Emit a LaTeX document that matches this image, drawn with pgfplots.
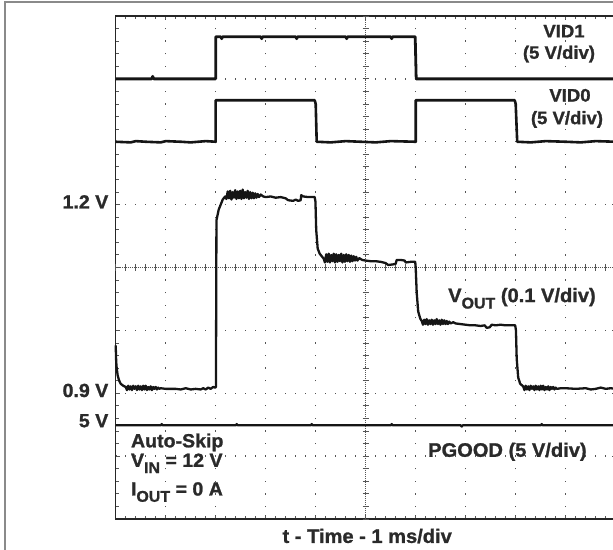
\documentclass[border=0pt]{standalone}
\usepackage{fontspec}
\setmainfont{Liberation Sans}
\newfontfamily\lbf{Liberation Sans Bold}[FakeStretch=1.03, FakeBold=1.2]
\usepackage{pgfplots}
\pgfplotsset{compat=1.18}
\definecolor{tr}{HTML}{151515}
\definecolor{txt}{HTML}{2A2A2A}
\definecolor{frm}{HTML}{8A8A8A}
\definecolor{grd}{HTML}{555555}
\newcommand\sub[1]{\raisebox{-0.33em}{\fontsize{15.5bp}{15.5bp}\selectfont #1}}
\tikzset{
  lbl/.style={inner sep=0pt, outer sep=0pt, text=txt, font=\lbf\fontsize{19bp}{22bp}\selectfont},
  lbls/.style={inner sep=0pt, outer sep=0pt, text=txt, font=\lbf\fontsize{18bp}{21bp}\selectfont},
  lblb/.style={inner sep=0pt, outer sep=0pt, text=txt, font=\lbf\fontsize{19.5bp}{23bp}\selectfont},
}
\begin{document}
\begin{tikzpicture}
\begin{axis}[
  scale only axis, width=500bp, height=503bp,
  xmin=0, xmax=10, ymin=0, ymax=8,
  clip=false,
  xtick={0,...,10}, ytick={0,...,8},
  xticklabels={}, yticklabels={},
  minor x tick num=4, minor y tick num=4,
  tick align=inside, major tick length=4bp, minor tick length=3bp,
  tick style={grd, line width=0.9bp},
  axis line style={black!85, line width=1.3bp},
  grid=major,
  major x grid style={grd, line width=1.3bp, dash pattern=on 1.3bp off 11.275bp, dash phase=0.65bp},
  major y grid style={grd, line width=1.3bp, dash pattern=on 1.3bp off 8.7bp, dash phase=0.65bp},
]
% frame and bounding coordinates
\draw[frm, line width=1.6bp] (axis cs:-2.214,-0.8) rectangle (axis cs:10.3,8.227);
\coordinate (bl) at (axis cs:-2.314,-0.493);
\coordinate (tr) at (axis cs:9.946,8.2545);
% centre lines
\draw[grd, line width=1bp, dash pattern=on 1bp off 1bp] (axis cs:5,0) -- (axis cs:5,8);
\draw[grd, line width=1bp, dash pattern=on 1bp off 1bp] (axis cs:0,4) -- (axis cs:10,4);
\pgfplotsinvokeforeach{0,0.2,...,10}{\draw[grd, line width=0.9bp] (axis cs:#1,3.95) -- (axis cs:#1,4.05);}
\pgfplotsinvokeforeach{0,0.2,...,8}{\draw[grd, line width=0.9bp] (axis cs:4.94,#1) -- (axis cs:5.06,#1);}

% VID1
\addplot[tr, line width=2.8bp, line join=round] coordinates {
(0,7.0) (0.72,7.0) (0.74,7.04) (0.76,7.0) (2.0,7.0) (2.0,7.67) (2.1,7.67) (2.12,7.64) (2.14,7.67)
(2.9,7.67) (2.92,7.64) (2.94,7.67) (3.6,7.67) (3.62,7.64) (3.64,7.67)
(4.6,7.67) (4.62,7.64) (4.64,7.67) (5.5,7.67) (5.52,7.64) (5.54,7.67)
(5.99,7.67) (6.01,7.0) (10,7.0)};
% VID0
\addplot[tr, line width=2.6bp, line join=round] coordinates {
(0,6.0) (0.3,5.99) (0.4,6.01) (0.6,6.0) (0.9,5.99) (1.0,6.01) (1.3,6.0) (1.5,5.99) (1.8,6.01)
(2.0,6.0) (2.0,6.66) (3.98,6.66) (4.0,6.6) (4.02,6.0) (4.3,5.99) (4.6,6.01) (4.9,6.0) (5.2,5.99)
(5.5,6.01) (6.0,6.0) (6.0,6.66) (7.98,6.66) (8.0,6.6) (8.03,6.0)
(8.3,5.99) (8.6,6.01) (9.0,6.0) (9.3,5.99) (9.6,6.01) (10,6.0)};
% VOUT
\addplot[tr, line width=2.3bp, line join=round] coordinates {
(0.0,2.76) (0.01,2.5) (0.02,2.4) (0.04,2.28) (0.07,2.2) (0.1,2.15) (0.15,2.12) (0.2,2.1)
(0.225,2.05) (0.25,2.12) (0.275,2.06) (0.3,2.11) (0.325,2.05) (0.35,2.12) (0.375,2.07) (0.4,2.11)
(0.425,2.05) (0.45,2.12) (0.475,2.06) (0.5,2.11) (0.525,2.05) (0.55,2.12) (0.575,2.06) (0.6,2.12)
(0.625,2.05) (0.65,2.1) (0.675,2.06) (0.7,2.11) (0.725,2.05) (0.75,2.1) (0.775,2.07) (0.8,2.1)
(0.825,2.06) (0.85,2.09) (0.875,2.07) (0.9,2.08)
(1.0,2.07) (1.2,2.07) (1.3,2.06) (1.4,2.08) (1.5,2.06) (1.6,2.07) (1.7,2.06) (1.75,2.08) (1.8,2.06)
(1.85,2.09) (1.9,2.07) (1.95,2.1) (1.99,2.09)
(2.005,2.1) (2.015,4.75) (2.06,4.92) (2.1,5.0) (2.14,5.08) (2.19,5.13)
(2.215,5.09) (2.24,5.21) (2.265,5.1) (2.29,5.22) (2.315,5.08) (2.34,5.2) (2.365,5.11) (2.39,5.23)
(2.415,5.09) (2.44,5.21) (2.465,5.1) (2.49,5.22) (2.515,5.09) (2.54,5.24) (2.565,5.1) (2.59,5.2)
(2.615,5.11) (2.64,5.22) (2.665,5.09) (2.69,5.2) (2.715,5.1) (2.74,5.19) (2.765,5.1) (2.79,5.18)
(2.815,5.11) (2.84,5.17) (2.865,5.12) (2.9,5.16) (2.95,5.13)
(3.0,5.12) (3.1,5.13) (3.2,5.11) (3.3,5.12) (3.4,5.1) (3.45,5.07) (3.55,5.06) (3.6,5.08) (3.65,5.06)
(3.7,5.07) (3.71,5.15) (3.75,5.13) (3.85,5.12) (3.98,5.12)
(3.995,5.05) (4.01,4.6) (4.04,4.3) (4.08,4.22) (4.13,4.17) (4.16,4.14)
(4.185,4.08) (4.21,4.21) (4.235,4.09) (4.26,4.22) (4.285,4.08) (4.31,4.2) (4.335,4.1) (4.36,4.22)
(4.385,4.08) (4.41,4.21) (4.435,4.09) (4.46,4.2) (4.485,4.1) (4.51,4.22) (4.535,4.08) (4.56,4.2)
(4.585,4.09) (4.61,4.21) (4.635,4.1) (4.66,4.2) (4.685,4.09) (4.71,4.19) (4.735,4.1) (4.76,4.18)
(4.785,4.11) (4.81,4.17) (4.835,4.11) (4.87,4.15) (4.93,4.12)
(5.0,4.11) (5.1,4.1) (5.2,4.1) (5.3,4.09) (5.4,4.07) (5.45,4.04) (5.55,4.05) (5.6,4.06) (5.62,4.12)
(5.7,4.12) (5.78,4.11) (5.8,4.08) (5.9,4.09) (5.99,4.09)
(6.0,4.0) (6.02,3.6) (6.05,3.3) (6.09,3.19) (6.12,3.15)
(6.145,3.09) (6.17,3.17) (6.195,3.1) (6.22,3.18) (6.245,3.09) (6.27,3.16) (6.295,3.1) (6.32,3.17)
(6.345,3.09) (6.37,3.16) (6.395,3.1) (6.42,3.18) (6.445,3.1) (6.47,3.16) (6.495,3.09) (6.52,3.17)
(6.545,3.1) (6.57,3.16) (6.595,3.1) (6.62,3.15) (6.645,3.1) (6.67,3.14) (6.7,3.11) (6.75,3.13)
(6.8,3.11) (6.9,3.1)
(7.0,3.09) (7.1,3.08) (7.2,3.08) (7.3,3.07) (7.38,3.08) (7.42,3.04) (7.48,3.05) (7.52,3.09) (7.6,3.08)
(7.7,3.09) (7.8,3.08) (7.9,3.08) (7.99,3.08)
(8.005,3.0) (8.02,2.55) (8.05,2.25) (8.09,2.15) (8.15,2.11)
(8.175,2.05) (8.2,2.12) (8.225,2.06) (8.25,2.11) (8.275,2.05) (8.3,2.12) (8.325,2.07) (8.35,2.11)
(8.375,2.05) (8.4,2.12) (8.425,2.06) (8.45,2.11) (8.475,2.05) (8.5,2.12) (8.525,2.06) (8.55,2.12)
(8.575,2.05) (8.6,2.1) (8.625,2.06) (8.65,2.11) (8.675,2.05) (8.7,2.1) (8.725,2.07) (8.75,2.1)
(8.775,2.06) (8.8,2.09) (8.825,2.07) (8.9,2.08)
(9.0,2.08) (9.2,2.07) (9.4,2.08) (9.5,2.06) (9.6,2.07) (9.7,2.09) (9.8,2.07) (9.9,2.08) (10,2.07)};
% PGOOD
\addplot[tr, line width=2.2bp, line join=round] coordinates {
(0,1.49) (0.9,1.49) (0.92,1.51) (0.94,1.49) (2.4,1.49) (2.42,1.51) (2.44,1.49) (3.9,1.49) (3.92,1.51)
(3.94,1.49) (5.5,1.49) (5.52,1.51) (5.54,1.49) (6.9,1.49) (6.92,1.47) (6.94,1.49) (8.5,1.49) (8.52,1.51)
(8.54,1.49) (10,1.49)};

% labels
\node[lbl, anchor=base east] at (axis cs:-0.148,4.94) {1.2 V};
\node[lbl, anchor=base east] at (axis cs:-0.148,1.94) {0.9 V};
\node[lbl, anchor=base east] at (axis cs:-0.148,1.46) {5 V};
\node[lbl, anchor=base west] at (axis cs:0.306,1.14) {Auto-Skip};
\node[lbl, anchor=base west] at (axis cs:0.306,0.83) {V\sub{IN} = 12 V};
\node[lbl, anchor=base west] at (axis cs:0.306,0.374) {I\sub{OUT} = 0 A};
\node[lbls, anchor=base] at (axis cs:8.966,7.66) {VID1};
\node[lbls, anchor=base] at (axis cs:8.866,7.32) {(5 V/div)};
\node[lbls, anchor=base] at (axis cs:9.086,6.64) {VID0};
\node[lbls, anchor=base] at (axis cs:9.026,6.28) {(5 V/div)};
\node[lblb, anchor=base west] at (axis cs:6.65,3.45) {V\sub{OUT} (0.1 V/div)};
\node[lblb, anchor=base west] at (axis cs:6.25,0.99) {PGOOD (5 V/div)};
\node[lblb, anchor=base] at (axis cs:5.03,-0.38) {t - Time - 1 ms/div};
\end{axis}
\pgfresetboundingbox
\useasboundingbox (bl) rectangle (tr);
\end{tikzpicture}
\end{document}
